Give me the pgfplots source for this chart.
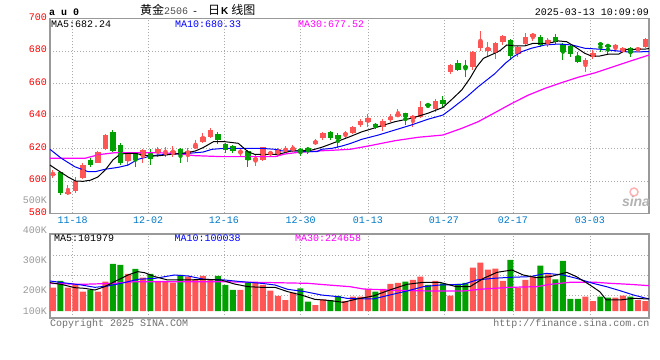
\documentclass[border=0pt]{standalone}
\usepackage{pgfplots}
\pgfplotsset{compat=1.18}
\usepackage{pgfplotstable}
\usepackage{fontspec}
\setmainfont{Liberation Mono}
\setsansfont{Liberation Sans}
\newfontfamily\cjk{Noto Sans CJK SC}
\definecolor{kred}{HTML}{FF5555}
\definecolor{kgreen}{HTML}{00A000}
\definecolor{datecol}{HTML}{0078C8}
\definecolor{gridgray}{HTML}{AAAAAA}
\definecolor{bordergray}{HTML}{999999}
\definecolor{labgray}{HTML}{999999}
\definecolor{footgray}{HTML}{6E6E6E}
\definecolor{mablue}{HTML}{0000FF}
\definecolor{mamag}{HTML}{FF00FF}

% i Open High Low Close Volume(K)
\pgfplotstableread{
i O H L C V
0 604 606.5 602 604.5 210
2 592.5 597.5 591.4 593.3 210
3 594 602.3 592.8 600.2 240
4 601.7 610.9 601 609.8 174
6 611.3 618.6 610.9 618 174
7 619.5 629 619 628.3 264
10 612.5 617.4 609.2 617 333
12 615.4 619.5 611.3 619 300
14 617 621.1 615 619.5 270
15 616.6 621 615 618 270
16 616 621.5 614.6 618.5 255
18 616.6 620.1 611.9 618.6 309
19 620.1 625.2 619.5 622.2 285
20 624.2 629.7 623.2 627.3 315
21 627.3 632.4 626.6 631.4 285
25 617.7 620.1 615 618.5 189
27 612.5 616 609.2 614.4 255
28 612.9 621.1 612.3 620.7 234
29 616.4 618.6 615.4 618 183
30 616 620.1 615 619.5 135
31 618.6 621.5 617 619.5 99
32 619 622.2 618 620.3 165
35 622.8 625.6 622.2 624.6 54
36 626.3 630.3 625.2 629.7 105
39 628.3 631 625.6 629.7 90
40 629.3 633.8 628.9 633.4 129
41 634.5 638 633 636.9 129
42 636.5 641.2 633 639 198
44 633 638 631 637.1 198
45 637.5 641 636.5 639.6 243
46 640 644.1 639.2 641 252
48 638 640.6 633.4 640 279
49 639.6 649.2 638.6 645.3 309
51 644.1 650.3 642.6 649.2 270
53 667.3 672 665.8 671.4 138
56 670 680.2 668.3 679.6 390
57 681.7 692.3 680.2 686.3 435
58 680.2 685.7 676.9 682 372
59 679 685.7 674.9 685.1 381
60 685.7 689.8 683.7 689.2 270
62 678.2 683.1 676.5 682.6 210
63 684.3 690.9 683.1 688.4 279
64 688.8 690.9 686.3 690.5 309
66 684.7 687.8 682.6 686.8 330
71 672 675.5 667.3 674.5 129
72 676.5 680.6 674.9 678.6 90
75 681.7 684.3 679.6 683.7 120
76 679.6 682.6 678.6 681.7 138
78 680.6 682.3 679.6 681.7 99
79 682.3 687.8 681.7 687.4 90
}\upK

\pgfplotstableread{
i O H L C V
1 605.4 605.8 591.6 592.8 270
5 612.9 614 608.4 609.8 189
8 630.3 631.4 618 618.6 423
9 622.2 623.2 609.8 610.9 414
11 617 618 608.4 612.9 378
13 618 619.5 609.8 613.3 333
17 619.5 620.1 610.9 616 324
22 628.9 630.3 622.8 625.2 315
23 622.8 623.6 617.4 619.1 234
24 621.5 622.2 617.4 618.5 189
26 618.6 619 608.8 612.9 255
33 619.5 620.1 615.4 618 204
34 620.3 621.1 616.6 618.6 84
37 630.3 631 625.2 626.3 99
38 628.3 629.3 620.1 625.8 135
43 635.1 635.9 631.8 633 174
47 641.7 642 634.5 639.6 264
50 647.4 647.8 644.7 646.2 234
52 649.8 652.3 645.3 647.4 249
54 672.8 674.5 667.9 668.3 243
55 670.8 674.5 664.2 669.7 252
61 686.8 687.2 674.5 676.9 459
65 688.4 689.8 682.6 683.7 408
67 688.4 690.3 684.3 685.7 285
68 684.3 684.7 674.5 679.6 450
69 683.1 683.7 676.5 678.2 108
70 676.9 679.6 672.8 673.4 108
73 684.7 685.1 679.6 683.7 129
74 683.7 684.3 677.5 682.6 120
77 681.7 682.3 676.1 679 129
}\downK

\pgfplotsset{
  kaxis/.style={
    scale only axis, width=599bp, xmin=-0.4, xmax=79.47,
    axis line style={draw=bordergray, line width=1.5bp},
    major tick length=0pt,
    xtick={2.63,12.67,22.8,33.03,42,52.13,61.33,71.6},
    xmajorgrids, ymajorgrids,
    grid style={draw=gridgray, line width=0.8bp, dash pattern=on 1bp off 2bp},
    ticklabel style={font=\fontsize{10bp}{10bp}\selectfont},
    /pgf/number format/assume math mode=true,
  },
  candle/.style 2 args={color=#1, mark=none, only marks, forget plot,
    error bars/.cd, y dir=both, y explicit, error mark=none,
    error mark options={draw=none, fill=none},
    error bar style={draw=#1, solid, line width=#2, line cap=butt}},
}

\begin{document}
\begin{tikzpicture}[font=\fontsize{10bp}{12bp}\selectfont]
\useasboundingbox (0,0) rectangle (660bp,360bp);

% ---------------- price panel ----------------
\begin{axis}[kaxis, at={(50bp,146.5bp)}, anchor=south west, height=195bp,
  ymin=580, ymax=700, ytick={580,600,620,640,660,680,700},
  yticklabels={580,600,620,640,660,680,700},
  yticklabel style={text=red, anchor=east, xshift=-2bp, yshift=1.5bp, inner sep=1bp},
  xticklabels={11-18,12-02,12-16,12-30,01-13,01-27,02-17,03-03},
  xticklabel style={text=datecol, anchor=north, inner sep=0pt, yshift=-3bp},
]
\addplot[candle={kred}{1bp}] table[x=i, y expr={(\thisrow{H}+\thisrow{L})/2}, y error expr={(\thisrow{H}-\thisrow{L})/2}] {\upK};
\addplot[candle={kred}{5.5bp}] table[x=i, y expr={(\thisrow{O}+\thisrow{C})/2}, y error expr={abs(\thisrow{C}-\thisrow{O})/2}] {\upK};
\addplot[candle={kgreen}{1bp}] table[x=i, y expr={(\thisrow{H}+\thisrow{L})/2}, y error expr={(\thisrow{H}-\thisrow{L})/2}] {\downK};
\addplot[candle={kgreen}{5.5bp}] table[x=i, y expr={(\thisrow{O}+\thisrow{C})/2}, y error expr={abs(\thisrow{C}-\thisrow{O})/2}] {\downK};

% MA30
\addplot[mamag, line width=1.2bp, no marks] coordinates {
(-0.4,614) (4.3,614) (5.1,615) (6.4,616.4) (8.2,617.4) (14,617.4) (16.2,617) (18.9,615.6)
(22.5,615) (29.6,615) (30.9,616.6) (32.3,617.4) (34,618) (35.8,618.6) (37.6,619) (39.6,619.5)
(42,621.5) (45.6,624.8) (48.7,626.9) (52,628.3) (54.5,632.4) (56.7,636.5) (58.9,642) (61.2,647.8)
(63.4,652.9) (65.6,657) (67.8,660.5) (70,663.8) (72.3,666.6) (74.5,670) (76.7,673.4) (79.47,677.5)};
% MA10
\addplot[mablue, line width=1bp, no marks] coordinates {
(-0.4,619.5) (1.1,614) (2.9,608.8) (4.7,605.7) (5.6,605.7) (6.9,607.2) (8.7,608.4) (10,609.8)
(11.3,613.3) (12.7,615) (14,616) (16.2,616.6) (18,617) (20,617.8) (21.2,619.5) (22.9,620.1)
(27.8,620.1) (29.6,619.5) (30.5,618.5) (32.7,618.5) (33.6,618) (35.2,618) (35.8,619.5) (37.2,620.1)
(38.5,621.5) (39.6,623) (41.2,625.7) (43.4,628.3) (45.6,631.4) (47.8,634.5) (50,638) (52,640.6)
(53.2,644.7) (55.2,651.9) (56.7,658) (58.9,666) (60.3,672.4) (61.4,676.5) (62.5,679.6) (63.8,681.7)
(65.6,683.7) (67.4,684.3) (69.2,683.7) (70.9,681.7) (73.2,681) (74.9,680.2) (76.7,679.4) (79.47,679.6)};
% MA5
\addplot[black, line width=1bp, no marks] coordinates {
(-0.4,609.8) (1,605.5) (2,602.5) (3,600) (4,599.8) (5,600.5) (6,602.5) (7,607) (8,613) (9,616.6)
(10,617) (11,617) (12,616) (13,615.3) (14,615.5) (15,616) (16,616.5) (17,617) (18,617.5) (19,618.5)
(20,620.5) (21.4,624.2) (22.9,624.2) (24.7,623.2) (26,618) (26.9,616.4) (30,616.4) (31.8,618.5)
(33.2,618.6) (34.5,619) (35.8,620.7) (36.7,622.2) (38,624.5) (39.6,627.3) (41.2,630.3) (43.4,633.4)
(45.6,636.5) (47.8,638.6) (50,641.7) (52,645.3) (53.2,650.3) (54.5,656) (55.6,663.2) (56.5,670.3)
(57.4,675.5) (58.9,678.6) (59.6,680.2) (60.5,683.7) (61.6,683.1) (62.9,683.1) (64,684.7) (66,684.7)
(67.4,686.2) (68.5,685.7) (69.6,682.6) (70.9,678.6) (71.8,676.9) (72.9,676.9) (74,678) (75.4,678)
(76.5,681) (77.6,681) (79,681.2) (79.47,681.5)};
\end{axis}

% ---------------- volume panel ----------------
\begin{axis}[kaxis, at={(50bp,42bp)}, anchor=south west, height=84bp,
  ymin=-63, ymax=693, ytick={138,318,498},
  xticklabel=\empty, yticklabel=\empty,
]
\addplot[ybar, bar width=6bp, bar shift=0pt, fill=kred, draw=none, forget plot] table[x=i, y=V] {\upK};
\addplot[ybar, bar width=6bp, bar shift=0pt, fill=kgreen, draw=none, forget plot] table[x=i, y=V] {\downK};
% MA30
\addplot[mamag, line width=1.2bp, no marks] coordinates {
(-0.4,249) (3.8,240) (8.2,249) (10.9,264) (17.1,264) (22.4,264) (29.6,255) (34,249) (36.7,234)
(39.6,219) (41.4,198) (45.8,186) (50.3,180) (54.7,180) (57.4,198) (60.9,213) (64.5,219) (66.3,240)
(68.9,258) (72.5,258) (74.3,249) (76.9,240) (79.47,228)};
% MA10
\addplot[mablue, line width=1bp, no marks] coordinates {
(-0.4,270) (2,249) (3.8,234) (5.6,213) (7.3,225) (9.1,249) (11.3,285) (13.6,294) (16.2,324) (18,315)
(20.2,285) (22.9,279) (25.1,264) (27.8,249) (29.6,234) (31.3,195) (33.6,174) (35.8,144) (38,129)
(39.2,114) (42.7,108) (44.9,144) (47.2,180) (49.4,219) (51.6,234) (54.7,240) (56.5,279) (58.7,294)
(60.9,303) (63.6,309) (65.8,339) (68,324) (69.8,294) (72,249) (73.8,219) (75.6,183) (77.4,144) (79.47,108)};
% MA5
\addplot[black, line width=1bp, no marks] coordinates {
(-0.4,255) (1.1,240) (2.9,210) (4.2,204) (5.6,189) (6.9,219) (8.2,264) (10,324) (11.3,354) (12.2,345)
(13.6,309) (15.3,279) (18,279) (20.2,285) (22.4,279) (24.2,243) (26,219) (27.8,213) (29.6,213)
(31.3,174) (33.1,144) (34.9,105) (36.8,95) (38.7,78) (40.5,108) (42.7,135) (44.9,189) (47.2,240)
(49.4,258) (51.6,258) (52.9,234) (53.8,219) (55.6,219) (57.4,294) (59.2,348) (61.2,369) (62.7,324)
(64.5,300) (66.3,309) (68.5,348) (69.8,309) (71.6,234) (72.9,174) (73.8,99) (75.6,99) (77.4,114) (79.47,108)};
\end{axis}

% ---------------- texts ----------------
\node[anchor=west, inner sep=0pt] at (49bp,348bp) {\bfseries a u 0};
\node[anchor=west, inner sep=0pt] at (140bp,350.5bp) {{\cjk\fontsize{12bp}{12bp}\selectfont 黄金}\textcolor{black!70}{2506}\hspace{4bp}-\hspace{10bp}{\cjk\fontsize{12bp}{12bp}\selectfont 日}\hspace{1bp}{\sffamily\bfseries K}\hspace{3bp}{\cjk\fontsize{12bp}{12bp}\selectfont 线图}};
\node[anchor=east, inner sep=0pt] at (649bp,347.7bp) {2025-03-13 10:09:09};

\node[anchor=west, inner sep=0pt] at (51bp,336bp) {MA5:682.24};
\node[anchor=west, inner sep=0pt, text=mablue] at (175bp,336bp) {MA10:680.33};
\node[anchor=west, inner sep=0pt, text=mamag] at (298bp,336bp) {MA30:677.52};

\node[anchor=west, inner sep=0pt] at (54bp,121.7bp) {MA5:101979};
\node[anchor=west, inner sep=0pt, text=mablue] at (174.5bp,121.7bp) {MA10:100038};
\node[anchor=west, inner sep=0pt, text=mamag] at (295bp,121.7bp) {MA30:224658};

\node[anchor=east, inner sep=0pt, text=labgray] at (47bp,160bp) {500K};
\node[anchor=east, inner sep=0pt, text=labgray] at (47bp,129.3bp) {400K};
\node[anchor=east, inner sep=0pt, text=labgray] at (47bp,100bp) {300K};
\node[anchor=east, inner sep=0pt, text=labgray] at (47bp,69.3bp) {200K};
\node[anchor=east, inner sep=0pt, text=labgray] at (47bp,49bp) {100K};

\node[anchor=west, inner sep=0pt, text=footgray] at (50bp,36bp) {Copyright 2025 SINA.COM};
\node[anchor=east, inner sep=0pt, text=footgray] at (649.5bp,36bp) {http://finance.sina.com.cn};

% watermark
\draw[red!30, line width=1.5bp] (634bp,168bp) circle (4bp);
\node[inner sep=0pt, text=black!30] at (636bp,159bp) {\sffamily\bfseries\itshape\fontsize{14bp}{14bp}\selectfont sina};
\end{tikzpicture}
\end{document}
